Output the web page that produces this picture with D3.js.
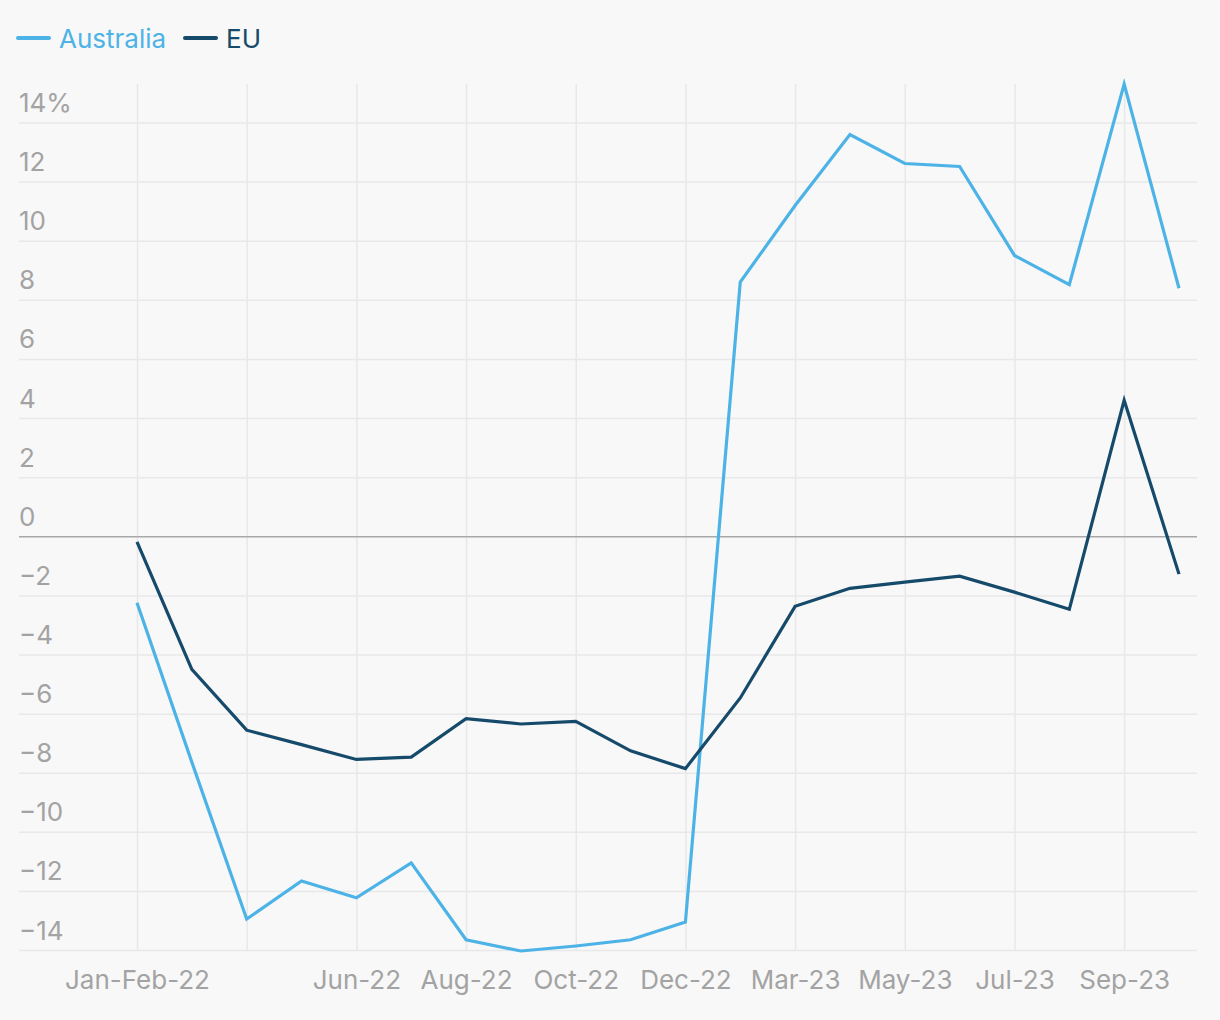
<!DOCTYPE html>
<html>
<head>
<meta charset="utf-8">
<script src="https://cdn.jsdelivr.net/npm/d3@7"></script>
<style>
  html, body { margin: 0; padding: 0; background: #f8f8f8; }
  svg { display: block; }
  text { font-family: Inter, "Noto Sans", sans-serif; }
</style>
</head>
<body>
<svg id="chart" width="1220" height="1020"></svg>
<script>
const categories = ["Jan-Feb-22","Mar-22","Apr-22","May-22","Jun-22","Jul-22","Aug-22","Sep-22","Oct-22","Nov-22","Dec-22","Jan-Feb-23","Mar-23","Apr-23","May-23","Jun-23","Jul-23","Aug-23","Sep-23","Oct-23"];
const australia = [-2.25,-7.64,-12.95,-11.66,-12.23,-11.05,-13.65,-14.03,-13.86,-13.65,-13.05,8.60,11.19,13.59,12.61,12.51,9.50,8.51,15.30,8.39];
const eu = [-0.19,-4.50,-6.56,-7.05,-7.55,-7.47,-6.17,-6.35,-6.26,-7.26,-7.86,-5.47,-2.37,-1.76,-1.55,-1.35,-1.89,-2.47,4.60,-1.28];
const seriesNames = ["Australia","EU"];
const seriesColors = ["#4db3e7","#164a6b"];
const xTickLabels = ["Jan-Feb-22","Jun-22","Aug-22","Oct-22","Dec-22","Mar-23","May-23","Jul-23","Sep-23"];
const xGridCats = categories.filter((d,i) => i % 2 === 0);
const yTicks = [-14,-12,-10,-8,-6,-4,-2,0,2,4,6,8,10,12,14];

const svg = d3.select("#chart");
const mLeft = 19, mRight = 1197, mTop = 84, mBottom = 951;
const x = d3.scalePoint().domain(categories).range([137, 1179]);
const y = d3.scaleLinear().domain([d3.min(australia.concat(eu)), d3.max(australia.concat(eu))]).range([mBottom, mTop]);

// vertical grid
const xGrid = svg.append("g").attr("transform", `translate(0,${mTop})`)
  .call(d3.axisBottom(x).tickValues(xGridCats).tickSize(mBottom - mTop).tickFormat(""));
xGrid.select(".domain").remove();
xGrid.selectAll("line").attr("stroke", "#e8e8e8").attr("stroke-width", 1.5);

// horizontal grid + labels
const yFmt = d3.format("d");
const yAxis = svg.append("g").attr("transform", `translate(${mLeft},0)`)
  .call(d3.axisRight(y).tickValues(yTicks).tickSize(mRight - mLeft)
    .tickFormat(d => d === 14 ? yFmt(d) + "%" : yFmt(d)));
yAxis.select(".domain").remove();
yAxis.selectAll("line")
  .attr("stroke", d => d === 0 ? "#a8a8a8" : "#e8e8e8")
  .attr("stroke-width", 1.5);
yAxis.selectAll("text")
  .attr("x", 0).attr("dy", -11)
  .attr("text-anchor", "start")
  .attr("fill", "#a3a3a3")
  .style("font-size", "26px");
yAxis.selectAll(".tick").filter(d => d === 0).raise();

// x labels
const xAxis = svg.append("g").attr("transform", `translate(0,${mBottom})`)
  .call(d3.axisBottom(x).tickValues(xTickLabels).tickSize(0));
xAxis.select(".domain").remove();
xAxis.selectAll("text")
  .attr("y", 0).attr("dy", 38)
  .attr("fill", "#a3a3a3")
  .style("font-size", "26px");

// lines
const line = d3.line().x((d,i) => x(categories[i])).y(d => y(d));
[australia, eu].forEach((vals, k) => {
  svg.append("path").datum(vals)
    .attr("d", line)
    .attr("fill", "none")
    .attr("stroke", seriesColors[k])
    .attr("stroke-width", 3.2)
    .attr("stroke-linejoin", "miter");
});

// legend
const legendX = [18, 185];
seriesNames.forEach((name, k) => {
  const g = svg.append("g").attr("transform", `translate(${legendX[k]},38)`);
  g.append("line").attr("x1", 0).attr("x2", 31).attr("y1", 0).attr("y2", 0)
    .attr("stroke", seriesColors[k]).attr("stroke-width", 4).attr("stroke-linecap", "round");
  g.append("text").attr("x", 41).attr("y", 10)
    .attr("fill", seriesColors[k]).style("font-size", "26px").text(name);
});
</script>
</body>
</html>
